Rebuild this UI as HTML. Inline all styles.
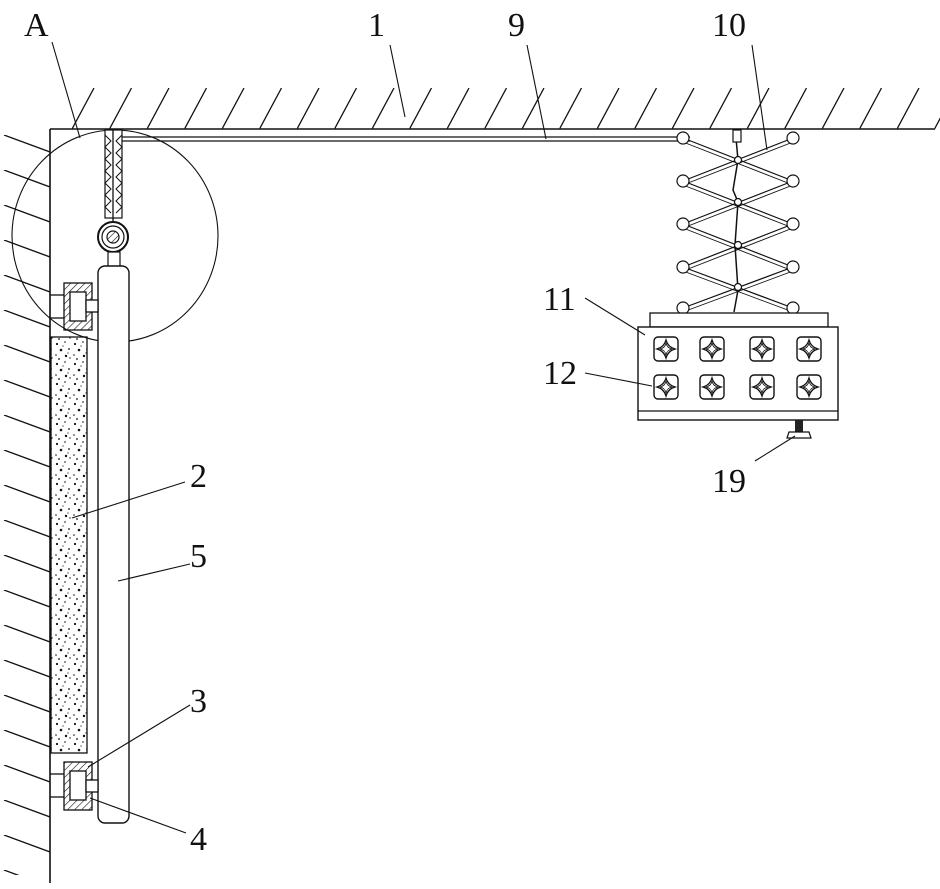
<!DOCTYPE html>
<html><head><meta charset="utf-8"><style>html,body{margin:0;padding:0;background:#fff}svg{display:block}text{font-family:"Liberation Serif",serif;font-size:34px;fill:#111}</style></head>
<body>
<svg width="940" height="889" viewBox="0 0 940 889" xmlns="http://www.w3.org/2000/svg">
<defs>
<pattern id="ht" x="72" y="88" width="37.5" height="41" patternUnits="userSpaceOnUse"><line x1="0" y1="41" x2="22" y2="0" stroke="#111" stroke-width="1.3"/></pattern>
<pattern id="hl" x="0" y="135" width="50" height="35" patternUnits="userSpaceOnUse"><line x1="4" y1="0" x2="50" y2="17" stroke="#111" stroke-width="1.3"/></pattern>
<pattern id="dots" width="18" height="20" patternUnits="userSpaceOnUse"><g fill="#111"><circle cx="3" cy="4" r="1.1"/><circle cx="11" cy="2" r="0.8"/><circle cx="7" cy="10" r="1.3"/><circle cx="15" cy="9" r="0.9"/><circle cx="2" cy="15" r="0.8"/><circle cx="12" cy="16" r="1.2"/><circle cx="16" cy="18" r="0.7"/><circle cx="5" cy="19" r="0.9"/><circle cx="9" cy="6" r="0.6"/><circle cx="14" cy="13" r="0.6"/></g></pattern>
<pattern id="hb" width="5" height="5" patternUnits="userSpaceOnUse" patternTransform="rotate(45)"><line x1="0" y1="0" x2="0" y2="5" stroke="#111" stroke-width="1.2"/></pattern>
<g id="tile"><rect x="0" y="0" width="24" height="24" rx="4" fill="#fff" stroke="#111" stroke-width="1.4"/><path d="M12 3 Q14 10 21 12 Q14 14 12 21 Q10 14 3 12 Q10 10 12 3Z" fill="none" stroke="#111" stroke-width="1.3"/><path d="M12 6 Q13 11 18 12 Q13 13 12 18 Q11 13 6 12 Q11 11 12 6Z" fill="none" stroke="#111" stroke-width="0.8"/></g>
</defs>
<rect x="58" y="88" width="882" height="41" fill="url(#ht)"/>
<line x1="50" y1="129" x2="935" y2="129" stroke="#111" stroke-width="1.6"/>
<rect x="0" y="135" width="50" height="740" fill="url(#hl)"/>
<line x1="50" y1="129" x2="50" y2="883" stroke="#111" stroke-width="1.6"/>
<line x1="113" y1="137" x2="690" y2="137" stroke="#111" stroke-width="1.2"/>
<line x1="113" y1="141" x2="690" y2="141" stroke="#111" stroke-width="1.2"/>
<ellipse cx="115" cy="236" rx="103" ry="106" fill="none" stroke="#111" stroke-width="1.1"/>
<rect x="105" y="130" width="17" height="88" fill="#fff" stroke="#111" stroke-width="1.2"/>
<path d="M105 135 L111 141 L105 147 L111 153 L105 159 L111 165 L105 171 L111 177 L105 183 L111 189 L105 195 L111 201 L105 207 L111 213 M122 135 L116 141 L122 147 L116 153 L122 159 L116 165 L122 171 L116 177 L122 183 L116 189 L122 195 L116 201 L122 207 L116 213" fill="none" stroke="#111" stroke-width="1"/>
<line x1="113" y1="130" x2="113" y2="225" stroke="#111" stroke-width="1.3"/>
<circle cx="113" cy="237" r="15" fill="#fff" stroke="#111" stroke-width="2"/>
<circle cx="113" cy="237" r="11" fill="none" stroke="#111" stroke-width="1.2"/>
<circle cx="113" cy="237" r="6" fill="url(#hb)" stroke="#111" stroke-width="1.2"/>
<rect x="108" y="252" width="12" height="16" fill="#fff" stroke="#111" stroke-width="1.2"/>
<rect x="98" y="266" width="31" height="557" rx="7" fill="#fff" stroke="#111" stroke-width="1.4"/>
<rect x="51" y="337" width="36" height="416" fill="url(#dots)" stroke="#111" stroke-width="1.3"/>
<g stroke="#111" stroke-width="1.3">
<line x1="50" y1="295" x2="64" y2="295"/><line x1="50" y1="318" x2="64" y2="318"/>
<rect x="64" y="283" width="28" height="47" fill="url(#hb)"/>
<rect x="70" y="292" width="16" height="29" fill="#fff"/>
<rect x="86" y="300" width="12" height="12" fill="#fff"/>
<line x1="50" y1="774" x2="64" y2="774"/><line x1="50" y1="797" x2="64" y2="797"/>
<rect x="64" y="762" width="28" height="48" fill="url(#hb)"/>
<rect x="70" y="771" width="16" height="29" fill="#fff"/>
<rect x="86" y="780" width="12" height="12" fill="#fff"/>
</g>
<g stroke="#111" stroke-width="1.2" fill="none">
<path d="M683 138 L793 181 M793 138 L683 181 M683 181 L793 224 M793 181 L683 224 M683 224 L793 267 M793 224 L683 267 M683 267 L793 308 M793 267 L683 308"/>
<path d="M683 142 L793 185 M793 142 L683 185 M683 185 L793 228 M793 185 L683 228 M683 228 L793 271 M793 228 L683 271 M683 271 L793 312 M793 271 L683 312" stroke-width="0.9"/>
<path d="M736 138 L738 160 L733 190 L738 202 L735 245 L738 290 L734 312" stroke-width="1.5"/>
<rect x="733" y="130" width="8" height="12" fill="#fff"/>
</g>
<g fill="#fff" stroke="#111" stroke-width="1.2">
<circle cx="683" cy="138" r="6"/><circle cx="793" cy="138" r="6"/><circle cx="683" cy="181" r="6"/><circle cx="793" cy="181" r="6"/><circle cx="683" cy="224" r="6"/><circle cx="793" cy="224" r="6"/><circle cx="683" cy="267" r="6"/><circle cx="793" cy="267" r="6"/><circle cx="683" cy="308" r="6"/><circle cx="793" cy="308" r="6"/>
<circle cx="738" cy="160" r="3.5"/><circle cx="738" cy="202" r="3.5"/><circle cx="738" cy="245" r="3.5"/><circle cx="738" cy="287" r="3.5"/>
</g>
<rect x="650" y="313" width="178" height="14" fill="#fff" stroke="#111" stroke-width="1.3"/>
<rect x="638" y="327" width="200" height="93" fill="#fff" stroke="#111" stroke-width="1.4"/>
<line x1="638" y1="411" x2="838" y2="411" stroke="#111" stroke-width="1.2"/>
<use href="#tile" x="654" y="337"/><use href="#tile" x="700" y="337"/><use href="#tile" x="750" y="337"/><use href="#tile" x="797" y="337"/>
<use href="#tile" x="654" y="375"/><use href="#tile" x="700" y="375"/><use href="#tile" x="750" y="375"/><use href="#tile" x="797" y="375"/>
<rect x="795" y="420" width="8" height="12" fill="#222"/>
<path d="M789 432 L809 432 L811 438 L787 438Z" fill="#fff" stroke="#111" stroke-width="1.2"/>
<g stroke="#111" stroke-width="1.1">
<line x1="52" y1="42" x2="80" y2="138"/>
<line x1="390" y1="45" x2="405" y2="117"/>
<line x1="527" y1="45" x2="546" y2="139"/>
<line x1="752" y1="45" x2="767" y2="150"/>
<line x1="585" y1="298" x2="645" y2="335"/>
<line x1="585" y1="373" x2="652" y2="386"/>
<line x1="755" y1="461" x2="795" y2="436"/>
<line x1="185" y1="482" x2="72" y2="518"/>
<line x1="190" y1="564" x2="118" y2="581"/>
<line x1="190" y1="705" x2="88" y2="767"/>
<line x1="186" y1="833" x2="90" y2="798"/>
</g>
<text x="24" y="36">A</text>
<text x="368" y="36">1</text>
<text x="508" y="36">9</text>
<text x="712" y="36">10</text>
<text x="543" y="310">11</text>
<text x="543" y="384">12</text>
<text x="712" y="492">19</text>
<text x="190" y="487">2</text>
<text x="190" y="567">5</text>
<text x="190" y="712">3</text>
<text x="190" y="850">4</text>
</svg>
</body></html>
